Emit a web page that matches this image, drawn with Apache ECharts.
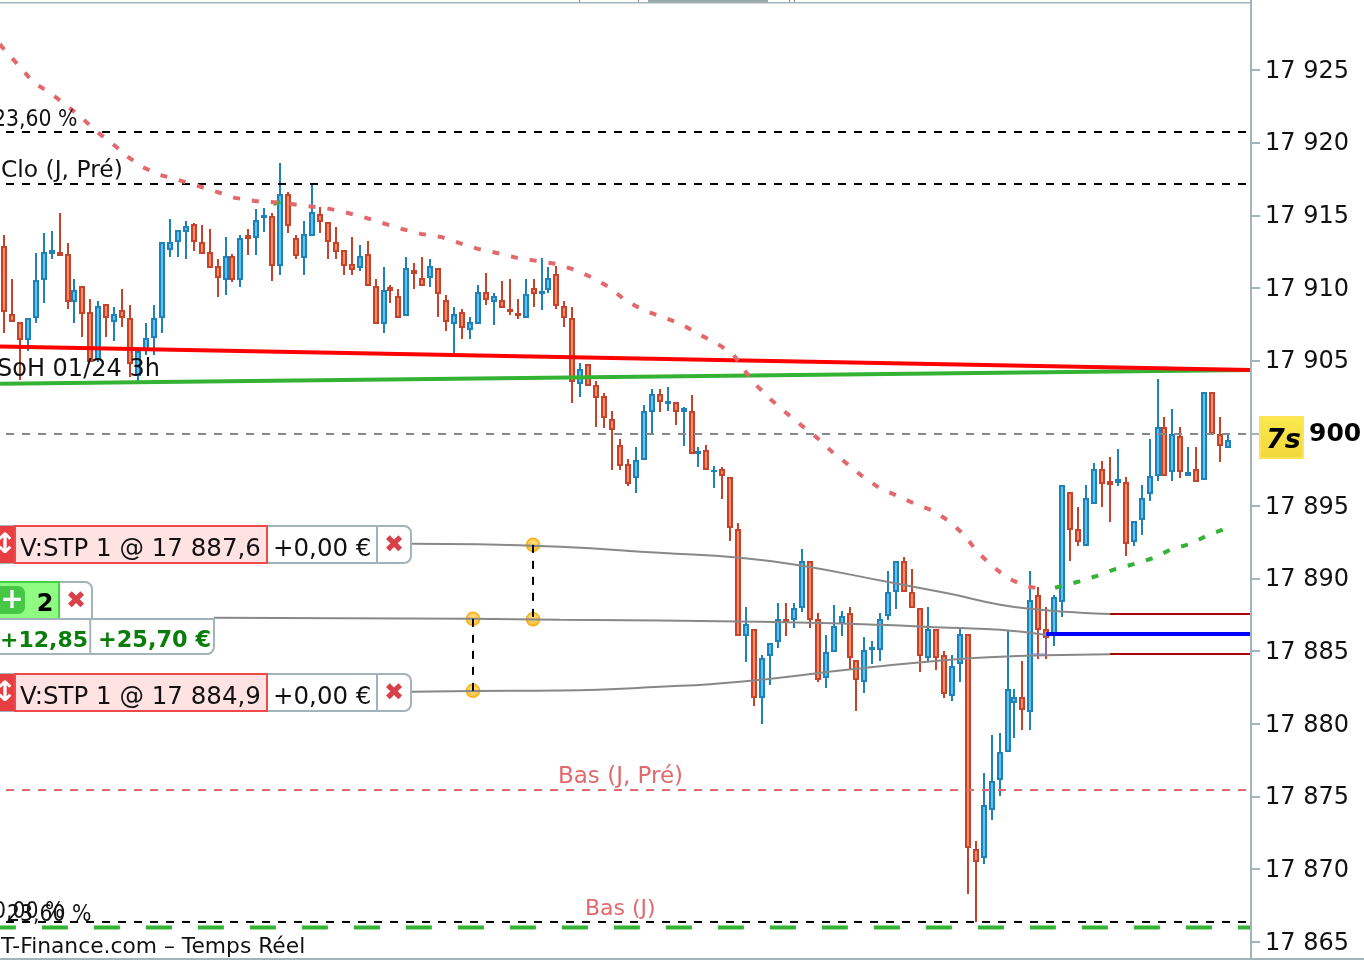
<!DOCTYPE html>
<html><head><meta charset="utf-8">
<style>html,body{margin:0;padding:0;background:#fff;overflow:hidden}#c{width:1364px;height:960px}</style>
<script src="https://cdn.jsdelivr.net/npm/echarts@6/dist/echarts.min.js"></script>
</head><body><div id="c"></div>
<script>
// All prices are written as points relative to the 17 900 level.
const priceBase = 17900;
const tickPrices = [17865,17870,17875,17880,17885,17890,17895,17900,17905,17910,17915,17920,17925];
const labelPrices = tickPrices.filter(p => p !== 17900);

const opens = [12.85,8.17,7.62,6.48,7.99,10.60,12.39,12.43,12.30,9.09,10.10,8.31,5.12,8.86,7.71,8.44,7.89,4.02,5.83,6.61,
7.99,12.67,13.22,13.91,14.36,13.12,12.43,11.47,10.60,12.16,10.60,13.58,13.49,14.86,14.91,11.57,16.42,13.40,12.12,13.63,
15.05,14.50,13.12,12.57,11.61,11.43,12.30,10.10,7.58,9.98,9.41,8.13,11.20,10.65,10.74,11.33,9.13,7.58,8.31,7.16,
7.58,9.68,9.09,9.13,8.46,8.18,7.99,9.96,9.65,9.92,10.92,8.72,7.89,3.45,4.73,3.22,2.53,0.88,-0.91,-2.15,
-3.02,-1.78,1.52,2.66,2.06,2.11,1.52,1.43,-1.38,-1.19,-2.62,-2.56,-3.11,-6.69,-13.89,-13.57,-18.15,-15.26,-14.30,-12.87,
-12.79,-11.96,-8.89,-12.88,-16.78,-14.99,-13.06,-12.47,-15.64,-17.05,-14.85,-14.85,-12.51,-10.86,-8.89,-10.96,-12.06,-15.40,-13.57,-15.36,
-18.02,-15.81,-13.85,-28.71,-29.16,-25.86,-23.80,-21.87,-18.46,-18.25,-19.12,-11.23,-13.57,-13.89,-11.55,-4.08,-6.69,-7.70,-4.81,-2.56,
-3.36,-3.32,-3.39,-7.42,-5.91,-4.12,-2.88,0.33,-2.60,-0.23,-2.88,-2.56,-3.16,2.80,-0.09,-0.95];
const closes = [8.40,7.71,6.48,7.89,10.51,12.43,12.57,12.26,9.09,9.82,8.26,4.98,8.72,7.99,8.17,7.99,4.82,5.60,6.52,7.89,
13.12,13.12,13.95,14.22,13.22,12.39,11.43,10.74,12.16,10.60,13.40,13.45,14.64,14.92,11.57,16.42,14.32,12.26,13.67,15.19,
14.59,13.22,12.53,11.57,11.29,12.16,10.19,7.58,9.82,9.89,7.99,11.33,11.02,10.19,11.47,9.64,7.71,8.17,7.30,7.62,
9.68,9.23,9.41,8.68,8.39,8.11,9.54,9.64,9.70,10.65,8.82,7.99,3.59,4.32,3.31,2.49,1.11,0.28,-2.19,-3.43,
-1.88,1.43,2.66,2.21,2.13,1.52,1.70,-1.37,-1.31,-2.47,-2.57,-2.88,-6.46,-13.89,-13.16,-18.15,-15.50,-14.53,-12.88,-12.94,
-12.06,-8.89,-12.79,-16.92,-15.09,-13.30,-12.61,-15.40,-16.92,-14.95,-14.76,-12.88,-10.96,-8.89,-10.86,-11.96,-15.26,-13.57,-15.40,-17.88,
-16.05,-13.85,-28.47,-29.44,-25.68,-24.03,-21.97,-17.70,-18.22,-18.98,-11.51,-13.48,-14.03,-11.37,-3.66,-6.60,-7.42,-4.49,-2.56,-3.43,
-3.46,-3.22,-7.56,-6.14,-4.49,-2.98,0.33,-2.88,-0.09,-2.60,-2.70,-3.29,2.80,0.05,-0.82,-0.50];
const lows = [6.93,7.65,3.68,5.69,7.62,8.99,12.00,12.19,8.58,7.62,6.65,4.91,4.91,6.65,6.38,7.34,3.90,3.54,5.42,5.42,
6.93,12.16,12.16,12.02,12.57,12.32,11.36,9.41,9.54,10.40,10.10,12.30,12.30,13.88,10.51,10.92,13.81,12.02,10.92,13.56,
13.81,12.02,12.02,10.92,10.92,11.20,10.12,7.51,6.93,8.99,7.92,8.06,9.96,10.12,10.10,8.03,7.07,5.55,6.52,6.52,
7.51,8.86,7.48,8.61,8.17,7.89,7.92,8.72,8.49,9.68,8.58,7.34,2.11,2.53,3.24,0.46,0.33,-2.56,-2.56,-3.66,
-4.08,-1.85,0.01,1.43,1.56,0.60,-0.91,-1.44,-2.29,-2.54,-3.75,-4.49,-7.38,-13.96,-15.77,-18.80,-20.04,-17.29,-14.81,-13.98,
-13.43,-12.33,-13.43,-17.15,-17.56,-15.06,-13.98,-16.28,-19.08,-17.84,-15.91,-15.64,-12.88,-12.06,-10.93,-12.03,-16.46,-15.77,-16.32,-18.25,
-18.39,-17.15,-31.73,-33.66,-29.67,-26.64,-24.99,-21.94,-21.00,-20.45,-20.45,-15.50,-15.50,-14.67,-12.61,-8.76,-7.79,-7.77,-4.88,-5.04,
-6.14,-3.66,-8.48,-7.79,-6.97,-4.63,-3.25,-2.95,-3.25,-3.11,-2.95,-3.36,-3.23,-0.02,-2.01,-1.02];
const highs = [13.65,10.62,7.62,7.89,12.41,13.79,13.93,15.17,13.10,10.62,10.10,9.25,9.11,8.86,8.70,9.94,8.84,5.95,7.60,8.84,
13.12,14.75,13.95,14.62,14.48,14.34,14.06,12.00,13.51,12.37,13.65,14.06,15.44,15.51,15.14,18.58,16.63,13.63,14.62,17.11,
15.56,14.50,14.18,12.57,13.49,12.94,13.22,10.60,11.43,10.19,9.92,12.12,11.70,12.12,11.98,11.33,9.50,8.68,8.54,7.99,
10.19,11.02,9.64,10.47,10.60,9.23,10.60,10.60,12.05,11.43,11.52,9.09,8.68,4.82,4.73,3.59,2.76,1.52,-0.40,-1.78,
-0.95,1.94,3.04,3.04,3.17,2.11,1.80,2.62,-0.95,-0.82,-2.24,-2.33,-3.11,-6.18,-11.96,-13.57,-15.26,-14.53,-11.69,-11.69,
-11.69,-7.97,-8.89,-12.37,-13.89,-11.83,-12.24,-11.96,-15.64,-14.03,-14.30,-12.37,-9.49,-8.89,-8.52,-9.35,-12.06,-11.96,-13.57,-14.99,
-15.26,-13.43,-13.85,-28.06,-23.38,-20.77,-20.63,-13.64,-17.60,-15.68,-9.49,-10.59,-11.96,-11.14,-3.66,-4.08,-5.08,-3.57,-2.05,-1.92,
-1.64,-1.09,-3.02,-6.14,-3.57,-0.40,3.72,1.11,1.66,0.42,-0.95,-0.95,2.80,2.80,1.11,-0.13];

// Long moving average (pink dashed)
const maX = [-0.5,-0.25,2.03,3.67,5.82,7.72,9.88,11.78,13.80,15.70,17.48,19.75,22.03,24.57,26.97,29.25,31.78,35.33,38.12,40.65,43.05,45.46,47.87,50.40,52.81,55.34,57.62,60.02,62.43,64.96,67.49,69.90,72.31,74.59,76.74,78.76,80.92,83.32,85.73,87.88,90.16,92.31,93.71,95.35,97.13,99.03,101.05,102.95,104.85,106.75,108.78,110.80,113.08,115.36,117.64,119.79,121.69,123.21,125.11,127.01,129.29,131.82];
const maY = [26.79,26.59,25.21,24.18,23.42,22.66,21.70,20.74,19.91,19.02,18.33,17.78,17.44,17.02,16.61,16.20,15.99,15.85,15.65,15.51,15.23,14.89,14.48,14.06,13.72,13.51,13.10,12.69,12.41,12.07,11.86,11.66,11.24,10.69,10.01,9.11,8.49,8.01,7.53,6.84,6.22,5.46,4.36,3.26,2.30,1.41,0.51,-0.31,-1.28,-2.10,-3.00,-3.75,-4.30,-4.86,-5.34,-6.09,-7.06,-8.16,-9.12,-9.95,-10.50,-10.77];
// Short moving average (green dashed)
const ma2X = [133.08,136.0,138.4,140.8,143.2,145.6,147.9,150.3,152.46,154.6];
const ma2Y = [-10.63,-10.22,-9.81,-9.33,-8.98,-8.57,-7.95,-7.61,-6.99,-6.58];
const ma2StubX = [34.1,35.0];
const ma2StubY = [15.78,15.92];
// Trend lines
const edgeX = [-0.51,157.91];
const redTrend = [5.97,4.36];
const greenTrend = [3.40,4.35];
// Horizontal levels
const levelFibo = 20.73, levelClose = 17.15, levelLast = -0.05, levelLowPrev = -24.55, levelLow = -33.63, levelFibo2 = -34.01;
const levelX = [0.27,157.5];
// Order link curves
const curveTopX = [51.54,60.0,70.41,83.07,93.2,101.05,111.82,119.79,126.12,131.19,136.25,140.05];
const curveTopY = [-7.61,-7.64,-7.81,-8.23,-8.57,-9.12,-10.22,-11.05,-11.80,-12.15,-12.35,-12.44];
const curveMidX = [26.59,59.01,70.41,95.73,110.93,119.79,126.12,131.82];
const curveMidY = [-12.70,-12.77,-12.84,-12.97,-13.18,-13.39,-13.52,-13.87];
const curveBotX = [51.54,59.39,70.41,83.07,93.2,107.89,119.79,126.12,131.82,140.05];
const curveBotY = [-17.79,-17.74,-17.70,-17.45,-17.10,-16.21,-15.59,-15.38,-15.28,-15.21];
const stopHigh = -12.44, stopLow = -15.19, entryLevel = -13.81;
const stubX = [140.05,157.91];
const entryX = [131.95,157.91];
const entryLinkX = [130.0,131.95,131.95];
const entryLinkY = [-15.19,-15.19,-13.81];
const anchorX = [66.99,66.99,59.39,59.39];
const anchorY = [-7.68,-12.80,-12.77,-17.72];

const P = v => priceBase + v;
const zip = (xs, ys) => xs.map((x, i) => [x, P(ys[i])]);
const flat = (xs, v) => xs.map(x => [x, P(v)]);
const fmt = v => { const s = String(Math.round(v)); return s.slice(0, 2) + ' ' + s.slice(2); };

const line = (data, color, width, type, extra) => Object.assign({
  type: 'line', data, symbol: 'none', silent: true, animation: false,
  lineStyle: { color, width, type: type || 'solid', cap: 'butt' }
}, extra || {});

const FONT = '"DejaVu Sans"';
const GRAY = '#a3b3bb';
const T = (x, y, text, size, fill, extra) => ({ type: 'text', silent: true, z: 100,
  style: { x, y, text, fill: fill || '#111', font: (extra && extra.weight ? extra.weight + ' ' : '') + size + 'px ' + FONT, verticalAlign: 'middle', align: (extra && extra.align) || 'left' } });
const TN = (x, y, text, size, sx) => ({ type: 'text', silent: true, z: 100, x, y, scaleX: sx,
  style: { x: 0, y: 0, text, fill: '#111', font: size + 'px ' + FONT, verticalAlign: 'middle', align: 'left' } });
const R = (x, y, w, h, fill, stroke, lw, r) => ({ type: 'rect', silent: true, z: 99,
  shape: { x, y, width: w, height: h, r: r || 0 }, style: { fill: fill || 'none', stroke: stroke || 'none', lineWidth: lw || 0 } });

function stopPanel(y, label) {
  return [
    R(-6, y, 417, 37, '#fff', GRAY, 2, [0, 7, 7, 0]),
    R(267, y, 110, 37, '#fff', GRAY, 2),
    R(-4, y, 19, 37, '#e83e42'),
    R(15, y, 252, 37, '#ffe3e3', '#f1484c', 2),
    T(5, y + 20, '↕', 28, '#fff', { weight: 'bold', align: 'center' }),
    T(20, y + 24, label, 24.5),
    T(273, y + 24, '+0,00 €', 24.5),
    T(394, y + 20, '✖', 24, '#d9414a', { align: 'center' })
  ];
}

const graphics = [
  R(0, 2, 1251, 1.5, GRAY),
  R(0, 958, 1364, 2, GRAY),
  R(1250, 0, 2, 960, GRAY),
  R(579, 0, 1, 2, '#888'), R(638, 0, 1, 2, '#888'), R(648, 0, 120, 2, '#9aa'), R(789, 0, 1, 2, '#888'), R(794, 0, 1, 2, '#888'),
  TN(-7, 120, '23,60 %', 23, 0.89),
  T(1, 171, 'Clo (J, Pré)', 23.4),
  T(-3, 370, 'SoH 01/24 3h', 24),
  T(558, 777, 'Bas (J, Pré)', 23, '#e26a6e'),
  T(585, 909, 'Bas (J)', 22, '#e26a6e'),
  TN(-7, 912, '0,00 %', 23, 0.89),
  TN(7, 915, '23,60 %', 23, 0.89),
  T(1, 947, 'T-Finance.com – Temps Réel', 21.8),
  ...stopPanel(526, 'V:STP 1 @ 17 887,6'),
  R(-6, 582, 98, 37, '#fff', GRAY, 2, [0, 7, 0, 0]),
  R(-4, 582, 63, 37, '#8ffc82', '#45d045', 2),
  R(-6, 586, 31, 28, '#45c645', null, 0, 7),
  T(12, 601, '+', 28, '#fff', { weight: 'bold', align: 'center' }),
  T(45, 605, '2', 24, '#000', { weight: 'bold', align: 'center' }),
  T(76, 602, '✖', 24, '#d9414a', { align: 'center' }),
  R(-6, 619, 220, 35, '#fff', GRAY, 2, [0, 0, 7, 0]),
  R(90, 619, 0.5, 35, GRAY, GRAY, 1.5),
  T(0, 641, '+12,85', 22, '#0a7d0a', { weight: 'bold' }),
  T(98, 641, '+25,70 €', 22.4, '#0a7d0a', { weight: 'bold' }),
  ...stopPanel(674, 'V:STP 1 @ 17 884,9'),
  { type: 'rect', silent: true, z: 99, shape: { x: 1260, y: 417, width: 43, height: 41 },
    style: { stroke: '#fde454', lineWidth: 2, fill: { type: 'linear', x: 0, y: 0, x2: 0, y2: 1, colorStops: [{ offset: 0, color: '#fbe94e' }, { offset: 1, color: '#f0d83a' }] } } },
  { type: 'text', silent: true, z: 100, style: { x: 1266, y: 441, text: '7s', fill: '#000', font: 'italic bold 27px ' + FONT, verticalAlign: 'middle' } },
  T(1309, 434, '900', 25, '#000', { weight: 'bold' })
];

const BLUE = ['#2080b8', '#5cc4f0'], RED = ['#c5432b', '#f58a66'];
function renderCandle(params, api) {
  const i = api.value(0), o = api.value(1), c = api.value(2), l = api.value(3), h = api.value(4);
  const col = c >= o ? BLUE : RED;
  const cx = Math.round(api.coord([i, o])[0] / 2) * 2;
  const py = v => Math.round(api.coord([i, v])[1]);
  const top = py(Math.max(o, c)), bot = py(Math.min(o, c)), hi = py(h), lo = py(l);
  const rect = (x, y, w, hh, fill) => ({ type: 'rect', shape: { x, y, width: w, height: hh }, style: { fill } });
  const kids = [rect(cx - 1, hi, 2, Math.max(lo - hi, 1), col[0]), rect(cx - 3, top - 1, 6, bot - top + 2, col[0])];
  if (bot - top > 2) kids.push(rect(cx - 1, top + 1, 2, bot - top - 2, col[1]));
  return { type: 'group', children: kids };
}

const chart = echarts.init(document.getElementById('c'), null, { renderer: 'canvas' });
chart.setOption({
  animation: false,
  backgroundColor: '#fff',
  grid: { left: 0, width: 1251, top: 3, bottom: 2, containLabel: false },
  tooltip: { show: false },
  xAxis: { type: 'value', min: -0.495, max: 157.89, show: false, splitLine: { show: false } },
  yAxis: {
    type: 'value', position: 'right', min: 17863.89, max: 17929.61, scale: true,
    splitLine: { show: false },
    axisLine: { show: true, onZero: false, lineStyle: { color: GRAY, width: 2 } },
    axisTick: { show: true, length: 9, lineStyle: { color: GRAY, width: 2 }, customValues: tickPrices },
    axisLabel: { show: true, margin: 14, customValues: labelPrices, formatter: v => '{a|' + fmt(v) + '}', showMinLabel: true, showMaxLabel: true,
      rich: { a: { color: '#111', fontFamily: 'DejaVu Sans', fontSize: 24, padding: [3, 0, 0, 0] } } }
  },
  graphic: graphics,
  series: [
    {
      type: 'custom', renderItem: renderCandle, animation: false, silent: true, clip: true,
      data: opens.map((o, i) => [i, P(o), P(closes[i]), P(lows[i]), P(highs[i])]),
      encode: { x: 0, y: [1, 2, 3, 4] }
    },
    line(flat(levelX, levelFibo), '#000', 2, [8, 8]),
    line(flat(levelX, levelClose), '#000', 2, [8, 8]),
    line(flat(levelX, levelLast), '#888', 2, [8, 8]),
    line(flat(levelX, levelLowPrev), '#e4696e', 2, [8, 8]),
    line(flat(levelX, levelLow), '#000', 2, [8, 8]),
    line(flat([-0.51, 157.91], levelFibo2), '#33b233', 4, [26, 26], { lineStyle: { color: '#33b233', width: 4, type: [26, 26], dashOffset: 10, cap: 'butt' } }),
    line(zip(curveTopX, curveTopY), '#888', 2, 'solid', { smooth: 0.5 }),
    line(zip(curveMidX, curveMidY), '#888', 2, 'solid', { smooth: 0.5 }),
    line(zip(curveBotX, curveBotY), '#888', 2, 'solid', { smooth: 0.5 }),
    line(flat(stubX, stopHigh), '#b00000', 2),
    line(flat(stubX, stopLow), '#b00000', 2),
    line(zip(entryLinkX, entryLinkY), '#7a7ad6', 1),
    line(flat(entryX, entryLevel), '#0000ff', 4),
    line(zip([anchorX[0], anchorX[1]], [anchorY[0], anchorY[1]]), '#000', 2, [8, 8]),
    line(zip([anchorX[2], anchorX[3]], [anchorY[2], anchorY[3]]), '#000', 2, [8, 8]),
    line(zip(edgeX, greenTrend), '#33b233', 4),
    line(zip(edgeX, redTrend), '#ff0000', 4),
    line(zip(ma2X, ma2Y), '#33b233', 4, [7, 12]),
    line(zip(ma2StubX, ma2StubY), '#33b233', 4),
    line(zip(maX, maY), '#e2686c', 4, [7, 12]),
    {
      type: 'scatter', silent: true, animation: false, symbol: 'circle', symbolSize: 13,
      data: zip(anchorX, anchorY),
      itemStyle: { opacity: 1, borderColor: '#f9b014', borderWidth: 1.5, color: { type: 'radial', x: 0.5, y: 0.35, r: 0.7, colorStops: [{ offset: 0, color: '#ffdc80' }, { offset: 1, color: '#fcbc30' }] } }
    }
  ]
});
</script></body></html>
